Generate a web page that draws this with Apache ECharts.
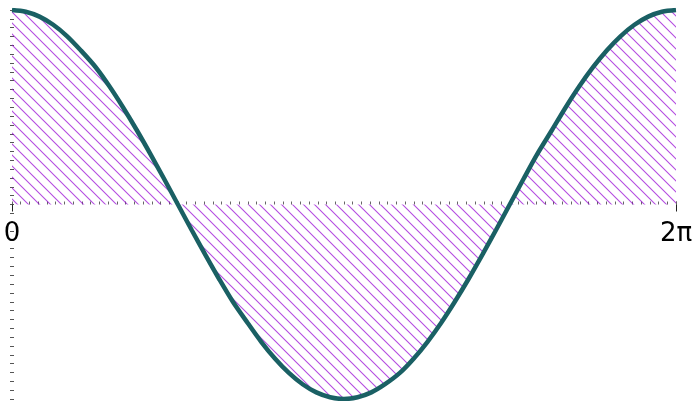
<!DOCTYPE html>
<html lang="en">
    <head>
        <meta charset="UTF-8">
        <title>cos</title>
        <script src="https://cdn.jsdelivr.net/npm/echarts@6/dist/echarts.min.js"></script>
        <style>
            html, body {
                margin: 0;
                height: 100%;
                background: #fff;
            }
        </style>
    </head>
    <body>
        <!--chart container-->
        <div id="main" style="width: 696px;height: 401px;"></div>
    </body>
</html>
<script>
    // x positions (0 .. 2π, step π/24) and curve values
    var xs = [0, 0.13, 0.26, 0.39, 0.52, 0.65, 0.79, 0.92, 1.05, 1.18, 1.31, 1.44, 1.57,
              1.70, 1.83, 1.96, 2.09, 2.23, 2.36, 2.49, 2.62, 2.75, 2.88, 3.01, 3.14,
              3.27, 3.40, 3.53, 3.67, 3.80, 3.93, 4.06, 4.19, 4.32, 4.45, 4.58, 4.71,
              4.84, 4.97, 5.11, 5.24, 5.37, 5.50, 5.63, 5.76, 5.89, 6.02, 6.15, 6.2832];
    var ys = [1, 0.991, 0.966, 0.924, 0.866, 0.793, 0.707, 0.609, 0.5, 0.383, 0.259, 0.131, 0,
              -0.131, -0.259, -0.383, -0.5, -0.609, -0.707, -0.793, -0.866, -0.924, -0.966, -0.991, -1,
              -0.991, -0.966, -0.924, -0.866, -0.793, -0.707, -0.609, -0.5, -0.383, -0.259, -0.131, 0,
              0.131, 0.259, 0.383, 0.5, 0.609, 0.707, 0.793, 0.866, 0.924, 0.966, 0.991, 1];
    var xLabels = ['0', '2π'];

    var X_MAX = 6.2832;

    // hatch tile for the filled area
    function hatch() {
        var s = 11;
        var c = document.createElement('canvas');
        c.width = s;
        c.height = s;
        var g = c.getContext('2d');
        g.strokeStyle = '#9400d3';
        g.lineWidth = 1.1;
        g.beginPath();
        g.moveTo(-1, -1); g.lineTo(s + 1, s + 1);
        g.moveTo(-1, s - 1); g.lineTo(1, s + 1);
        g.moveTo(s - 1, -1); g.lineTo(s + 1, 1);
        g.stroke();
        return c;
    }

    var data = [];
    for (var i = 0; i < xs.length; i++) {
        data.push([xs[i], ys[i]]);
    }

    // plot area: y = 1 at 10px, y = -1 at 399px, so zero sits at 204.5px
    var plotGrid = {left: 12, right: 20, top: 10, bottom: 2, outerBoundsMode: 'none'};
    // upper half only, so its bottom edge is the zero line
    var halfGrid = {left: 12, right: 20, top: 10, height: 194.5, outerBoundsMode: 'none'};

    var myChart = echarts.init(document.getElementById('main'));

    var option = {
        animation: false,
        grid: [plotGrid, halfGrid, halfGrid],
        xAxis: [
            {
                gridIndex: 0,
                type: 'value',
                min: 0,
                max: X_MAX,
                show: false
            },
            {
                // small ticks on the zero line
                gridIndex: 1,
                type: 'value',
                min: 0,
                max: X_MAX,
                interval: X_MAX / 76,
                axisLine: {show: false},
                axisTick: {show: true, inside: true, length: 3, lineStyle: {color: '#666'}},
                axisLabel: {show: false},
                splitLine: {show: false}
            },
            {
                // end ticks and labels
                gridIndex: 2,
                type: 'value',
                min: 0,
                max: X_MAX,
                interval: X_MAX,
                axisLine: {show: false},
                axisTick: {show: true, length: 7, lineStyle: {color: '#222'}},
                axisLabel: {
                    show: true,
                    showMinLabel: true,
                    showMaxLabel: true,
                    hideOverlap: false,
                    margin: 17,
                    fontSize: 26,
                    color: '#000',
                    fontFamily: 'DejaVu Sans',
                    formatter: function (v) {
                        return v === 0 ? xLabels[0] : xLabels[1];
                    }
                },
                splitLine: {show: false}
            }
        ],
        yAxis: [
            {
                gridIndex: 0,
                type: 'value',
                min: -1,
                max: 1,
                interval: 1 / 22,
                offset: -2,
                axisLine: {show: false},
                axisTick: {show: true, length: 4, lineStyle: {color: '#555'}},
                axisLabel: {show: false},
                splitLine: {show: false}
            },
            {gridIndex: 1, type: 'value', min: 0, max: 1, show: false},
            {gridIndex: 2, type: 'value', min: 0, max: 1, show: false}
        ],
        series: [
            {
                type: 'line',
                xAxisIndex: 0,
                yAxisIndex: 0,
                data: data,
                smooth: 0.3,
                showSymbol: false,
                lineStyle: {color: '#1a6064', width: 4.5},
                areaStyle: {
                    origin: 0,
                    color: {image: hatch(), repeat: 'repeat'}
                },
                z: 3
            }
        ]
    };

    myChart.setOption(option);
</script>
